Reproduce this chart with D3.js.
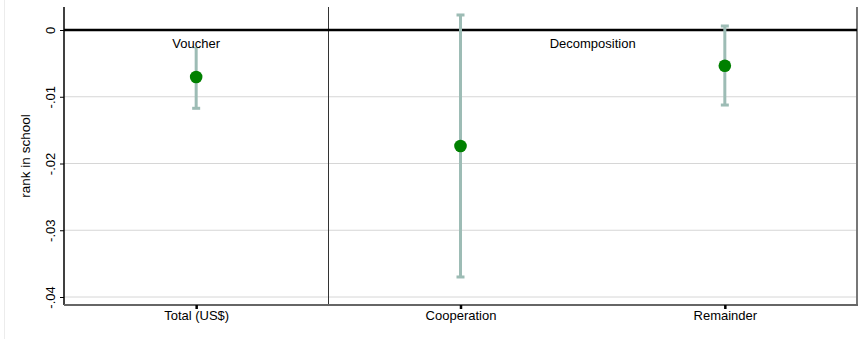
<!DOCTYPE html>
<html>
<head>
<meta charset="utf-8">
<script src="https://cdn.jsdelivr.net/npm/d3@7"></script>
<style>
  html, body { margin: 0; padding: 0; background: #fff; }
  svg { display: block; font-family: "Liberation Sans", Arial, sans-serif; }
</style>
</head>
<body>
<svg id="chart" width="860" height="339"></svg>
<script>
// Coefficient estimates with 95% confidence bounds
const categories = ["Total (US$)", "Cooperation", "Remainder"];
const estimates  = [-0.00704, -0.01738, -0.00535];
const ciLower    = [-0.01173, -0.03700, -0.01124];
const ciUpper    = [-0.00250,  0.00225,  0.00060];
const yTicks     = [0, -0.01, -0.02, -0.03, -0.04];
const yTickLabels = ["0", "-.01", "-.02", "-.03", "-.04"];
const groupLabels = [
  { text: "Voucher", from: 0, to: 0 },
  { text: "Decomposition", from: 1, to: 2 }
];

const svg = d3.select("#chart");
const margin = { left: 64, right: 3, top: 7, bottom: 34 };
const W = 860, H = 339;
const fontSize = 13;

const x = d3.scaleLinear()
  .domain([-0.5, categories.length - 0.5])
  .range([margin.left, W - margin.right]);
const y = d3.scaleLinear()
  .domain([-0.04, 0])
  .range([297, 30]);
const plotBottom = H - margin.bottom;   // 305

// faint outer frame edge
svg.append("line")
  .attr("x1", 4.5).attr("x2", 4.5).attr("y1", 0).attr("y2", H)
  .attr("stroke", "#ececec").attr("stroke-width", 1);

// horizontal gridlines
svg.append("g").selectAll("line")
  .data(yTicks.filter(d => d !== 0))
  .join("line")
  .attr("x1", margin.left).attr("x2", W - margin.right)
  .attr("y1", d => y(d)).attr("y2", d => y(d))
  .attr("stroke", "#d6d6d6").attr("stroke-width", 1);

// separator between the two groups
svg.append("line")
  .attr("x1", Math.round(x(0.5)) + 0.5).attr("x2", Math.round(x(0.5)) + 0.5)
  .attr("y1", margin.top).attr("y2", plotBottom)
  .attr("stroke", "#333").attr("stroke-width", 1);

// right frame
svg.append("line")
  .attr("x1", W - margin.right).attr("x2", W - margin.right)
  .attr("y1", margin.top).attr("y2", plotBottom + 1)
  .attr("stroke", "#777").attr("stroke-width", 2);

// zero reference line
svg.append("line")
  .attr("x1", margin.left).attr("x2", W - margin.right)
  .attr("y1", y(0)).attr("y2", y(0))
  .attr("stroke", "#000").attr("stroke-width", 2.5);

// y axis
const yAxis = d3.axisLeft(y)
  .tickValues(yTicks)
  .tickSize(4)
  .tickFormat((d, i) => yTickLabels[i]);
const gy = svg.append("g")
  .attr("transform", `translate(${margin.left},0)`)
  .call(yAxis);
gy.select(".domain")
  .attr("d", `M0,${margin.top}V${plotBottom}`)
  .attr("stroke", "#000").attr("stroke-width", 1.5);
gy.selectAll(".tick line").attr("stroke", "#000").attr("stroke-width", 1);
gy.selectAll(".tick text")
  .attr("font-size", fontSize)
  .attr("fill", "#000")
  .attr("text-anchor", "middle")
  .attr("transform", "translate(-14,0) rotate(-90)")
  .attr("x", 0).attr("y", 0).attr("dy", "0.35em");

// y axis title
svg.append("text")
  .attr("transform", `translate(25,${(margin.top + plotBottom) / 2}) rotate(-90)`)
  .attr("text-anchor", "middle")
  .attr("dy", "0.35em")
  .attr("font-size", 13.5)
  .attr("fill", "#000")
  .text("rank in school");

// x axis
const xAxis = d3.axisBottom(x)
  .tickValues(d3.range(categories.length))
  .tickSize(4)
  .tickFormat(i => categories[i]);
const gx = svg.append("g")
  .attr("transform", `translate(0,${plotBottom})`)
  .call(xAxis);
gx.select(".domain")
  .attr("d", `M${margin.left},0H${W - margin.right + 1}`)
  .attr("stroke", "#666").attr("stroke-width", 2);
gx.selectAll(".tick line").attr("stroke", "#000").attr("stroke-width", 2.5);
gx.selectAll(".tick text")
  .attr("font-size", fontSize).attr("fill", "#000").attr("y", 6);

// confidence intervals
const ciColor = "#9dbcb5";
const capW = 4;
const ci = svg.append("g");
categories.forEach((c, i) => {
  const cx = x(i);
  ci.append("line")
    .attr("x1", cx).attr("x2", cx)
    .attr("y1", y(ciUpper[i])).attr("y2", y(ciLower[i]))
    .attr("stroke", ciColor).attr("stroke-width", 3);
  [ciUpper[i], ciLower[i]].forEach(v => {
    ci.append("line")
      .attr("x1", cx - capW).attr("x2", cx + capW)
      .attr("y1", y(v)).attr("y2", y(v))
      .attr("stroke", ciColor).attr("stroke-width", 3);
  });
});

// group labels
groupLabels.forEach(g => {
  const cx = (x(g.from) + x(g.to)) / 2;
  const t = svg.append("text")
    .attr("x", cx).attr("y", 48)
    .attr("text-anchor", "middle")
    .attr("font-size", fontSize)
    .attr("fill", "#000")
    .text(g.text);
  const bb = t.node().getBBox();
  svg.insert("rect", () => t.node())
    .attr("x", bb.x).attr("y", bb.y + 2)
    .attr("width", bb.width).attr("height", 47 - bb.y - 2)
    .attr("fill", "#fff");
});

// point estimates
svg.append("g").selectAll("circle")
  .data(estimates)
  .join("circle")
  .attr("cx", (d, i) => x(i))
  .attr("cy", d => y(d))
  .attr("r", 6.3)
  .attr("fill", "#008000");
</script>
</body>
</html>
